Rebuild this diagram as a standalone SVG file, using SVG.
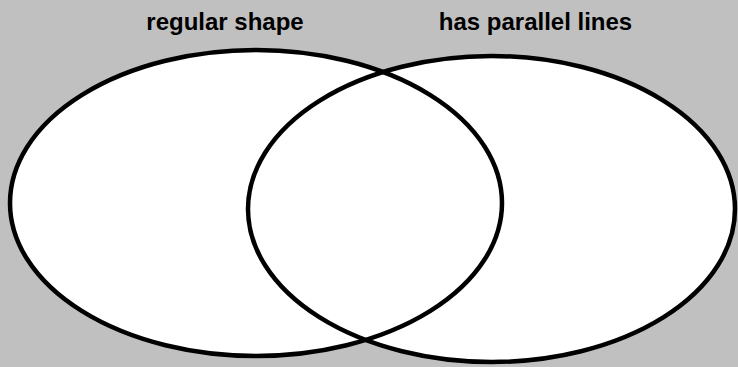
<svg xmlns="http://www.w3.org/2000/svg" width="738" height="367" viewBox="0 0 738 367">
<style>
.fill{fill:#ffffff;stroke:none}
.ring{fill:none;stroke:#000000;stroke-width:4.5}
.label{font-family:"Liberation Sans",Arial,sans-serif;font-weight:bold;font-size:24px;fill:#000000;text-anchor:middle}
</style>
<rect x="0" y="0" width="738" height="367" fill="#c0c0c0"/>
<g id="fills">
<ellipse class="fill" cx="256" cy="203" rx="246" ry="153"/>
<ellipse class="fill" cx="491.5" cy="209" rx="243.5" ry="153"/>
</g>
<g id="regular-shape">
<ellipse class="ring" cx="256" cy="203" rx="246" ry="153"/>
<text class="label" x="225" y="30">regular shape</text>
</g>
<g id="has-parallel-lines">
<ellipse class="ring" cx="491.5" cy="209" rx="243.5" ry="153"/>
<text class="label" x="535.5" y="30">has parallel lines</text>
</g>
<g id="connectors"/>
</svg>
